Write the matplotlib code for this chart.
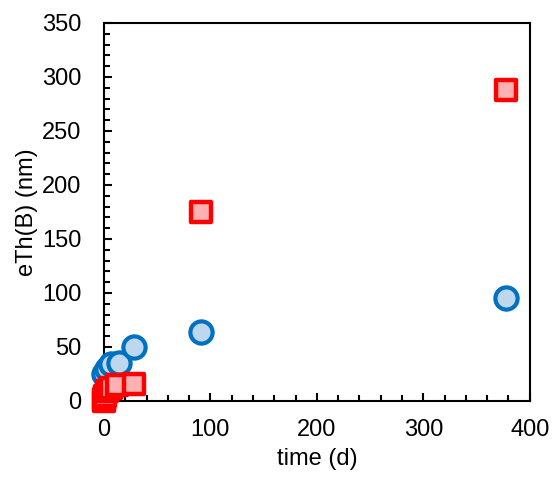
import numpy as np
import matplotlib.pyplot as plt
from matplotlib.ticker import MultipleLocator
from matplotlib.markers import MarkerStyle

plt.rcParams['font.family'] = ['Liberation Sans', 'DejaVu Sans']

# blue circles
t_blue = [0.5, 3, 7, 14, 28, 91, 378]
v_blue = [25, 30, 34, 35, 50, 64, 95]
# red squares
t_red = [0, 0.5, 1, 3, 7, 12, 28, 91, 378]
v_red = [0, 2, 5, 9, 12, 15, 16, 175, 288]

fig = plt.figure(figsize=(5.53, 4.79), dpi=100)
ax = fig.add_axes([0.188, 0.163, 0.770, 0.789])

ax.plot(t_blue, v_blue, 'o', ms=16, mfc='#bdd7ee', mec='#0070c0', mew=3, zorder=3)
ax.plot(t_red, v_red, ls='none', marker=MarkerStyle('s', joinstyle='round'),
        ms=14, mfc='#ffb0b0', mec='#ff0000', mew=3.2, zorder=4)

ax.set_xlim(0, 400)
ax.set_ylim(0, 350)
ax.xaxis.set_major_locator(MultipleLocator(100))
ax.xaxis.set_minor_locator(MultipleLocator(20))
ax.yaxis.set_major_locator(MultipleLocator(50))
ax.yaxis.set_minor_locator(MultipleLocator(10))
ax.tick_params(which='both', direction='in', labelsize=17, width=1.5)
ax.tick_params(axis='y', pad=16)
ax.tick_params(axis='x', pad=13)
ax.tick_params(which='major', length=6)
ax.tick_params(which='minor', length=4)
for s in ax.spines.values():
    s.set_linewidth(1.5)
ax.set_xlabel('time (d)', fontsize=17, labelpad=5)
ax.set_ylabel('eTh(B) (nm)', fontsize=17, labelpad=3)
for ln in ax.lines:
    ln.set_clip_on(False)

fig.savefig('out.png')
